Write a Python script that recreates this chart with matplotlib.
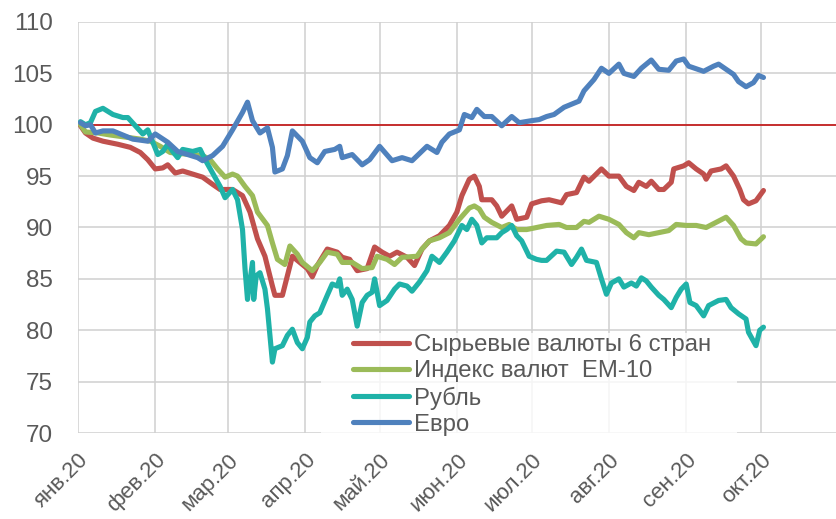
import matplotlib
matplotlib.use("Agg")
import matplotlib.pyplot as plt
import matplotlib.dates as mdates
from matplotlib.patches import Rectangle
import numpy as np
import pandas as pd

plt.rcParams['font.family'] = ['Liberation Sans', 'DejaVu Sans']

# ---- data (days since 2020-01-01, index values) ----
commod_days = [1, 3, 6, 10, 16, 21, 25, 28, 31, 34, 36, 39, 42, 46, 50, 54, 57, 62, 66, 69,
               72, 75, 78, 79, 82, 84, 86, 89, 92, 94, 96, 100, 104, 106, 109, 112, 116, 119,
               122, 125, 128, 132, 135, 138, 141, 145, 149, 152, 154, 157, 159, 161, 162, 166,
               168, 170, 174, 176, 180, 182, 186, 189, 194, 196, 200, 203, 205, 210, 213, 217,
               220, 223, 225, 228, 230, 233, 235, 238, 239, 243, 245, 248, 251, 252, 254, 258,
               260, 263, 265.5, 267, 269, 272, 275]
commod_vals = [99.9, 99.2, 98.7, 98.4, 98.1, 97.8, 97.3, 96.6, 95.7, 95.8, 96.1, 95.3, 95.5,
               95.2, 94.9, 94.2, 93.7, 93.7, 93.1, 91.5, 88.9, 87.2, 84.3, 83.4, 83.4, 85.3,
               87.2, 86.6, 86.0, 85.2, 86.3, 87.9, 87.6, 87.1, 86.9, 85.8, 86.0, 88.1, 87.6,
               87.2, 87.6, 87.1, 86.3, 87.9, 88.7, 89.2, 90.2, 91.5, 93.1, 94.7, 95.0, 94.0,
               92.7, 92.7, 92.1, 91.1, 92.1, 90.8, 91.0, 92.3, 92.6, 92.7, 92.4, 93.2, 93.4,
               94.9, 94.5, 95.7, 95.0, 95.0, 94.0, 93.6, 94.4, 94.0, 94.5, 93.7, 93.7, 94.4,
               95.7, 96.0, 96.3, 95.7, 95.2, 94.7, 95.5, 95.7, 96.0, 95.0, 93.7, 92.7, 92.3,
               92.6, 93.6]

em_days = [1, 3, 8, 13, 19, 25, 29, 33, 37, 41, 45, 50, 53, 56, 59, 62, 64, 67, 70, 72, 76,
           78, 80, 83, 85, 88, 90, 94, 97, 100, 104, 106, 110, 114, 118, 120, 124, 127, 130,
           136, 138, 141, 145, 149, 153, 157, 159, 161, 163, 166, 170, 173, 176, 180, 184,
           188, 193, 196, 200, 203, 205, 209, 213, 217, 220, 223, 225, 229, 233, 237, 240,
           244, 248, 252, 256, 260, 263, 266, 268, 272, 275]
em_vals = [100.0, 99.3, 99.2, 99.0, 98.8, 98.6, 98.4, 97.9, 97.3, 97.2, 97.1, 97.0, 96.6,
           95.7, 94.9, 95.2, 95.0, 94.0, 93.1, 91.5, 90.2, 88.5, 86.9, 86.4, 88.2, 87.4,
           86.6, 85.8, 86.6, 87.6, 87.4, 86.6, 86.6, 86.0, 86.1, 87.2, 86.9, 86.4, 87.1,
           87.2, 87.9, 88.7, 89.0, 89.5, 90.8, 91.9, 92.1, 91.8, 91.0, 90.5, 90.0, 90.3,
           89.8, 89.8, 90.0, 90.2, 90.3, 90.0, 90.0, 90.6, 90.5, 91.1, 90.8, 90.3, 89.5,
           89.0, 89.5, 89.3, 89.5, 89.7, 90.3, 90.2, 90.2, 90.0, 90.5, 91.0, 90.2, 88.9,
           88.5, 88.4, 89.1]

rub_days = [1, 3, 5, 7, 10, 14, 18, 20, 23, 26, 28, 30, 32, 34, 36, 38, 40, 42, 46, 49, 51,
            54, 57, 59, 62, 64, 66, 67, 68, 70, 70.5, 71.5, 73, 75, 76, 78, 79, 82, 84, 86,
            88, 90, 92, 93, 95, 97, 100, 102, 104, 105, 106, 108, 110, 112, 114, 116, 118,
            119, 121, 124, 127, 129, 132, 134, 137, 140, 142, 145, 148, 151, 154, 156, 158,
            160, 162, 164, 168, 170, 172, 174, 176, 178, 181, 184, 186, 188, 192, 195, 198,
            200, 202, 204, 208, 210, 212, 214, 217, 219, 222, 224, 226, 228, 230, 233, 235,
            238, 240, 242, 244, 245.5, 248, 251, 253, 257, 260, 262, 265, 268, 269, 272,
            273.5, 275]
rub_vals = [100.3, 100.0, 100.2, 101.3, 101.6, 101.0, 100.7, 100.7, 99.9, 99.1, 99.5, 98.3,
            97.1, 97.4, 98.1, 97.4, 96.8, 97.6, 97.4, 97.6, 96.6, 95.3, 94.0, 92.9, 93.7,
            92.7, 89.8, 86.0, 83.0, 86.6, 83.0, 85.3, 85.6, 84.0, 82.1, 76.9, 78.2, 78.5,
            79.5, 80.1, 78.8, 78.2, 79.3, 80.8, 81.4, 81.7, 83.4, 84.5, 84.3, 85.0, 83.4,
            84.0, 83.0, 80.4, 82.7, 83.4, 83.7, 85.0, 82.4, 82.9, 84.0, 84.5, 84.3, 83.8,
            84.7, 85.8, 87.2, 86.6, 87.6, 88.7, 90.2, 89.8, 90.8, 90.2, 88.5, 89.0, 89.0,
            89.5, 89.8, 90.2, 89.2, 88.7, 87.2, 86.9, 86.8, 86.8, 87.7, 87.6, 86.4, 87.1,
            87.9, 86.8, 86.6, 85.0, 83.5, 84.6, 85.0, 84.2, 84.6, 84.3, 85.1, 84.8, 84.2,
            83.4, 83.0, 82.2, 83.2, 84.0, 84.5, 82.7, 82.4, 81.4, 82.4, 82.9, 83.0, 82.2,
            81.6, 81.1, 79.8, 78.5, 80.0, 80.3]

eur_days = [1, 3, 5, 7, 10, 14, 17, 22, 28, 31, 36, 40, 44, 48, 50, 54, 58, 62, 66, 68, 70,
            73, 76, 78, 79, 82, 84, 86, 90, 93, 96, 99, 103, 105, 106, 110, 114, 117, 121,
            126, 130, 134, 140, 144, 146, 149, 153, 155, 158, 160, 163, 166, 170, 174, 177,
            182, 185, 188, 191, 195, 198, 201, 203, 207, 210, 213, 217, 219, 223, 226, 230,
            233, 237, 240, 243, 245, 251, 255, 257, 260, 263, 265, 268, 271, 273, 275]
eur_vals = [100.2, 99.9, 100.0, 99.2, 99.4, 99.4, 99.1, 98.6, 98.4, 99.1, 98.3, 97.4, 97.1,
            96.8, 96.5, 97.0, 97.9, 99.5, 101.2, 102.2, 100.4, 99.2, 99.7, 97.8, 95.4, 95.7,
            97.0, 99.4, 98.4, 96.8, 96.3, 97.4, 97.6, 97.9, 96.8, 97.1, 96.1, 96.6, 97.9,
            96.5, 96.8, 96.5, 97.9, 97.3, 98.3, 99.1, 99.5, 101.0, 100.7, 101.5, 100.8,
            100.8, 99.9, 100.8, 100.2, 100.4, 100.5, 100.8, 101.0, 101.7, 102.0, 102.3,
            103.3, 104.4, 105.5, 105.0, 105.9, 105.0, 104.7, 105.5, 106.3, 105.4, 105.3,
            106.2, 106.4, 105.7, 105.2, 105.7, 105.9, 105.4, 104.9, 104.2, 103.7, 104.1,
            104.8, 104.6]

series_names = ["Сырьевые валюты 6 стран", "Индекс валют  EM-10", "Рубль", "Евро"]
series_colors = ["#C0504D", "#9BBB59", "#1FB2A8", "#4F81BD"]
month_labels = ["янв.20", "фев.20", "мар.20", "апр.20", "май.20", "июн.20",
                "июл.20", "авг.20", "сен.20", "окт.20"]
reference_level = 100

base = pd.Timestamp("2020-01-01")


def to_dates(days):
    return base + pd.to_timedelta(np.asarray(days, dtype=float), unit="D")


fig = plt.figure(figsize=(8.36, 5.19), dpi=100)
ax = fig.add_axes([78 / 836, 86 / 519, 758 / 836, 411 / 519])

all_days = [commod_days, em_days, rub_days, eur_days]
all_vals = [commod_vals, em_vals, rub_vals, eur_vals]
handles = []
for d, v, name, col in zip(all_days, all_vals, series_names, series_colors):
    h, = ax.plot(to_dates(d), v, color=col, lw=3.7, label=name, zorder=3,
                 solid_joinstyle="round", solid_capstyle="round")
    handles.append(h)

ax.axhline(reference_level, color="#C00000", lw=1.1, zorder=2.8)

ax.set_ylim(70, 110)
ax.set_yticks(np.arange(70, 111, 5))
ax.set_xlim(mdates.date2num(base), mdates.date2num(base + pd.Timedelta(days=304.1)))
month_ticks = pd.date_range("2020-01-01", periods=len(month_labels), freq="MS")
ax.set_xticks(mdates.date2num(month_ticks))
ax.set_xticklabels(month_labels, rotation=45, ha="right", rotation_mode="anchor")

ax.grid(True, color="#D0D0D0", lw=1.1, zorder=0)
ax.set_axisbelow(True)
for s in ax.spines.values():
    s.set_visible(False)
ax.tick_params(axis="both", length=0, colors="#595959")
ax.tick_params(axis="y", pad=18, labelsize=17.5)
ax.tick_params(axis="x", pad=12, labelsize=16)

# semi-transparent legend background
ax.add_patch(Rectangle((0.3206, -0.01), 0.869 - 0.3206, 0.253, transform=ax.transAxes,
                       facecolor="white", alpha=0.8, edgecolor="none", zorder=2.5,
                       clip_on=False))
leg = ax.legend(handles=handles, loc="upper left", bbox_to_anchor=(0.3628, 0.240),
                frameon=False, fontsize=17.2, handlelength=2.35, handletextpad=0.2,
                labelspacing=0.17, borderpad=0, borderaxespad=0)
for t in leg.get_texts():
    t.set_color("#595959")
leg.set_zorder(4)

fig.savefig("out.png", dpi=100)
